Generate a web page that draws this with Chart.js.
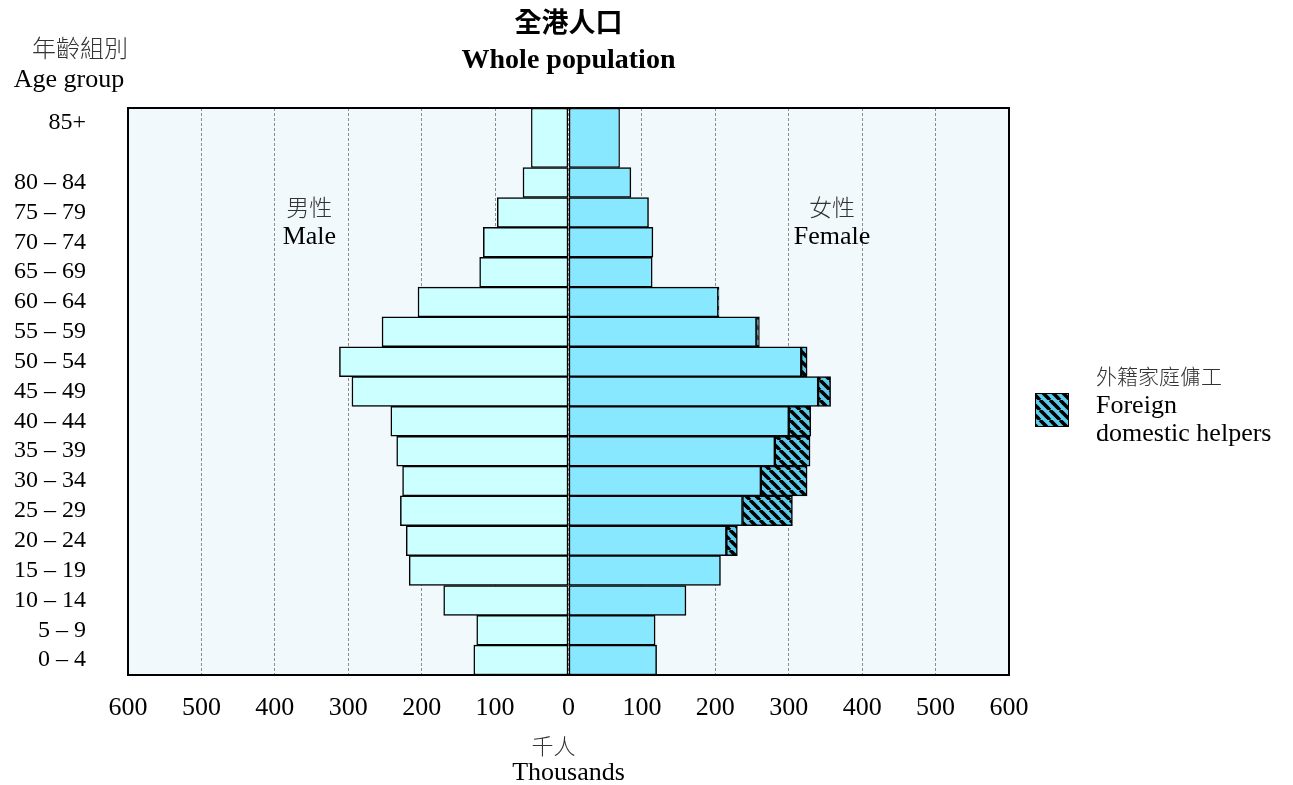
<!DOCTYPE html>
<html>
<head>
<meta charset="utf-8">
<title>全港人口 Whole population</title>
<script src="https://cdn.jsdelivr.net/npm/chart.js@4.4.1/dist/chart.umd.min.js"></script>
<style>
  html, body { margin: 0; padding: 0; background: #fff; }
  #wrap { width: 1293px; height: 785px; }
</style>
</head>
<body>
<div id="wrap"><canvas id="pyramid" width="1293" height="785"></canvas></div>
<script>
// population by age group, thousands (youngest first)
const ageGroups = ['0 – 4', '5 – 9', '10 – 14', '15 – 19', '20 – 24', '25 – 29', '30 – 34', '35 – 39', '40 – 44',
                   '45 – 49', '50 – 54', '55 – 59', '60 – 64', '65 – 69', '70 – 74', '75 – 79', '80 – 84', '85+'];
const male    = [129, 125, 170, 217, 221, 229, 226, 234, 242, 295, 312, 254, 205, 121, 116, 97, 62, 51];
const female  = [120, 118, 160, 207, 215, 237, 262, 281, 300, 340, 317, 256, 204, 114, 115, 109, 85, 70];
const helpers = [0, 0, 0, 0, 15, 68, 63, 48, 30, 17, 8, 4, 1, 0, 0, 0, 0, 0];
const xTicks  = [-600, -500, -400, -300, -200, -100, 0, 100, 200, 300, 400, 500, 600];

const SERIF = "'Liberation Serif', 'Times New Roman', serif";
const CJK = "'Noto Sans CJK TC', 'Noto Sans CJK SC', sans-serif";

Chart.defaults.font.family = SERIF;
Chart.defaults.color = '#000';

// one row per group, the open ended 85+ group is drawn two rows tall
const last = ageGroups.length - 1;
const rowPos = ageGroups.map((g, i) => i < last ? i + 0.5 : i + 1);
const labelPos = ageGroups.map((g, i) => i < last ? i + 0.5 : i + 1.5);

const points = (arr, sign, from, to) =>
  arr.slice(from, to)
     .map((v, k) => ({ x: sign * v, y: rowPos[from + k] }))
     .filter(p => p.x !== 0);

// hatch for foreign domestic helpers
const hatchCanvas = document.createElement('canvas');
hatchCanvas.width = 10;
hatchCanvas.height = 10;
const hctx = hatchCanvas.getContext('2d');
hctx.fillStyle = '#5ccbe9';
hctx.fillRect(0, 0, 10, 10);
hctx.strokeStyle = '#000';
hctx.lineWidth = 3.5;
[-10, 0, 10].forEach(k => {
  hctx.beginPath();
  hctx.moveTo(k, 0);
  hctx.lineTo(k + 10, 10);
  hctx.stroke();
});
const hatch = hctx.createPattern(hatchCanvas, 'repeat');

const barStyle = {
  borderColor: '#000',
  borderWidth: 1.5,
  borderSkipped: false,
  grouped: false,
  categoryPercentage: 1,
  barPercentage: 1
};

const annotations = {
  id: 'annotations',
  beforeDraw(chart) {
    const { ctx, chartArea: a } = chart;
    ctx.save();
    ctx.fillStyle = '#f2f9fc';
    ctx.fillRect(a.left, a.top, a.width, a.height);
    ctx.restore();
  },
  afterDraw(chart) {
    const { ctx, chartArea: a, scales: { x } } = chart;
    const text = (str, px, py, font, color, align) => {
      ctx.font = font;
      ctx.fillStyle = color || '#000';
      ctx.textAlign = align || 'center';
      ctx.fillText(str, px, py);
    };
    ctx.save();
    ctx.strokeStyle = '#000';
    ctx.lineWidth = 2;
    ctx.strokeRect(a.left, a.top, a.width, a.height);

    ctx.textBaseline = 'middle';
    const x0 = x.getPixelForValue(0);
    text('全港人口', x0, 22, 'bold 27px ' + CJK);
    text('Whole population', x0, 61, 'bold 28px ' + SERIF);

    text('年齡組別', 80, 48, '300 24px ' + CJK, '#333');
    text('Age group', 69, 80, '26px ' + SERIF);

    text('男性', x.getPixelForValue(-353), 207, '300 23px ' + CJK, '#333');
    text('Male', x.getPixelForValue(-353), 237, '26px ' + SERIF);
    text('女性', x.getPixelForValue(359), 207, '300 23px ' + CJK, '#333');
    text('Female', x.getPixelForValue(359), 237, '26px ' + SERIF);

    text('千人', x0 - 15, 746, '300 22px ' + CJK, '#333');
    text('Thousands', x0, 773, '26px ' + SERIF);

    // legend
    ctx.fillStyle = hatch;
    ctx.fillRect(1035, 393, 34, 34);
    ctx.lineWidth = 1;
    ctx.strokeRect(1035.5, 393.5, 33, 33);
    text('外籍家庭傭工', 1096, 376, '300 21px ' + CJK, '#333', 'left');
    text('Foreign', 1096, 406, '26px ' + SERIF, '#000', 'left');
    text('domestic helpers', 1096, 434, '26px ' + SERIF, '#000', 'left');
    ctx.restore();
  }
};

const ctx = document.getElementById('pyramid').getContext('2d');

const pyramid = new Chart(ctx, {
  type: 'bar',
  data: {
    datasets: [
      { ...barStyle, label: 'Male', data: points(male, -1, 0, last), backgroundColor: '#ccffff' },
      { ...barStyle, label: 'Female', data: points(female, 1, 0, last), backgroundColor: '#88e8ff' },
      { ...barStyle, label: 'Foreign domestic helpers', data: points(helpers, 1, 0, last), backgroundColor: hatch },
      { ...barStyle, label: 'Male 85+', data: points(male, -1, last), backgroundColor: '#ccffff', barPercentage: 2 },
      { ...barStyle, label: 'Female 85+', data: points(female, 1, last), backgroundColor: '#88e8ff', barPercentage: 2 }
    ]
  },
  options: {
    indexAxis: 'y',
    responsive: false,
    animation: false,
    devicePixelRatio: 1,
    layout: { padding: { top: 108, right: 284, left: 0, bottom: 0 } },
    plugins: {
      legend: { display: false },
      title: { display: false },
      tooltip: {
        callbacks: {
          label: (c) => c.dataset.label + ': ' + Math.abs(c.parsed.x)
        }
      }
    },
    scales: {
      x: {
        type: 'linear',
        min: xTicks[0],
        max: xTicks[xTicks.length - 1],
        stacked: true,
        afterBuildTicks: (s) => { s.ticks = xTicks.map(v => ({ value: v })); },
        afterFit: (s) => { s.height = 110; },
        ticks: {
          callback: (v) => Math.abs(v),
          font: { size: 26, family: SERIF },
          color: '#000',
          padding: 18
        },
        grid: { color: '#8c8c8c', lineWidth: 1, drawTicks: false },
        border: { display: false, dash: [3, 2] }
      },
      y: {
        type: 'linear',
        min: 0,
        max: ageGroups.length + 1,
        offset: false,
        stacked: true,
        afterBuildTicks: (s) => { s.ticks = labelPos.map(v => ({ value: v })); },
        afterFit: (s) => { s.width = 128; },
        ticks: {
          autoSkip: false,
          callback: (v, i) => ageGroups[i],
          font: { size: 24, family: SERIF },
          color: '#000',
          padding: 42
        },
        grid: { display: false, drawTicks: false, offset: false },
        border: { display: false }
      }
    }
  },
  plugins: [annotations]
});
</script>
</body>
</html>
